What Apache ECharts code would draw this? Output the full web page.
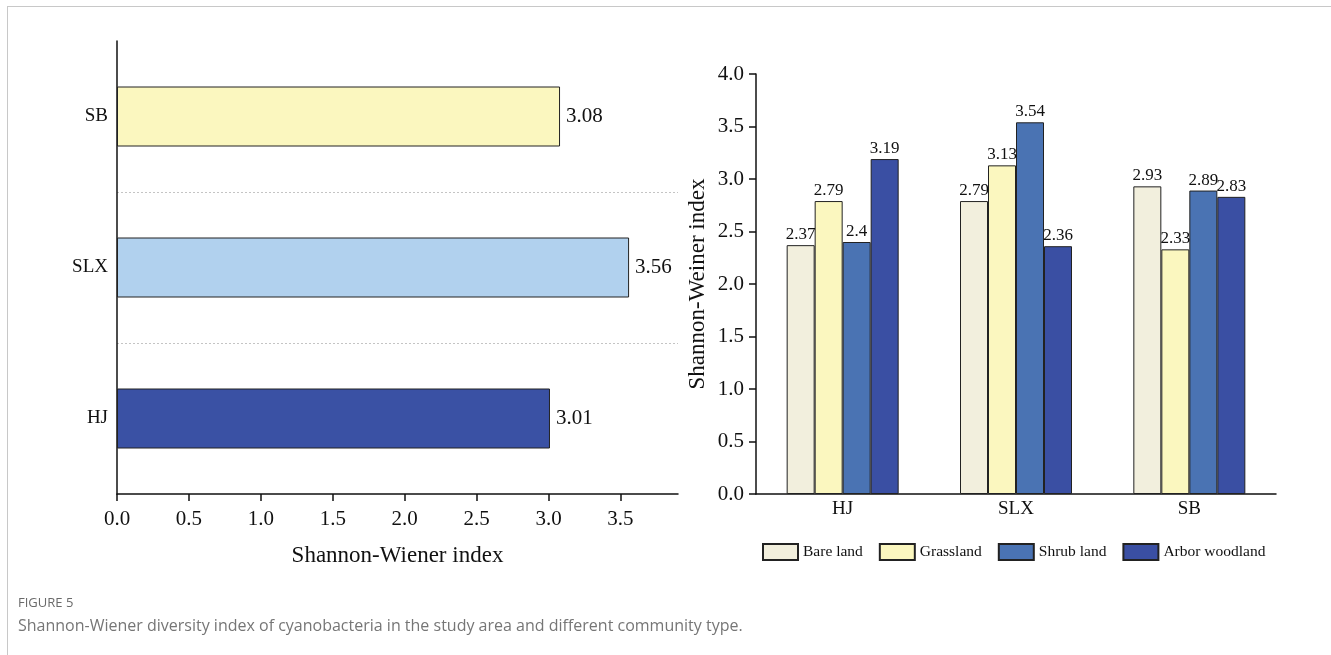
<!DOCTYPE html>
<html><head><meta charset="utf-8">
<script src="https://cdn.jsdelivr.net/npm/echarts@6/dist/echarts.min.js"></script>
<style>
html,body{margin:0;padding:0;background:#fff;}
#frame{position:absolute;left:7px;top:6px;right:0;bottom:0;border-left:1px solid #c8c8c8;border-top:1px solid #c8c8c8;}
#c{position:absolute;left:0;top:0;width:1331px;height:655px;}
</style></head>
<body><div id="frame"></div><div id="c"></div>
<script>
// Left chart: study areas
const areaCategories = ['HJ', 'SLX', 'SB'];
const areaValues = [3.01, 3.56, 3.08];
const areaColors = ['#3A51A4', '#B1D1EE', '#FBF7BF'];
const leftTicks = [0, 0.5, 1.0, 1.5, 2.0, 2.5, 3.0, 3.5];

// Right chart: community types
const siteCategories = ['HJ', 'SLX', 'SB'];
const bareLand = [2.37, 2.79, 2.93];
const grassland = [2.79, 3.13, 2.33];
const shrubLand = [2.4, 3.54, 2.89];
const arborWoodland = [3.19, 2.36, 2.83];
const typeNames = ['Bare land', 'Grassland', 'Shrub land', 'Arbor woodland'];
const typeColors = ['#F2EFDD', '#FBF7BF', '#4A73B3', '#3A4FA3'];

const serif = '"Liberation Serif","Times New Roman",serif';
const chart = echarts.init(document.getElementById('c'));

const typeData = [bareLand, grassland, shrubLand, arborWoodland];
const rightSeries = typeNames.map((n, i) => ({
  name: n, type: 'bar', xAxisIndex: 1, yAxisIndex: 1,
  data: typeData[i], barWidth: 28, barGap: '0%',
  itemStyle: { color: typeColors[i], borderColor: '#222', borderWidth: 1 },
  label: { show: true, position: 'top', distance: 2, fontFamily: serif, fontSize: 17, color: '#111',
    formatter: p => String(p.value) },
  emphasis: { disabled: true }
}));

chart.setOption({
  animation: false,
  title: [
    { text: 'FIGURE 5', left: 13, top: 592, textStyle: { fontFamily: '"Open Sans",sans-serif', fontSize: 13, fontWeight: 'normal', color: '#6a6a6a' } },
    { text: 'Shannon-Wiener diversity index of cyanobacteria in the study area and different community type.', left: 13, top: 613,
      textStyle: { fontFamily: '"Open Sans",sans-serif', fontSize: 16, fontWeight: 'normal', color: '#767676' } }
  ],
  legend: {
    data: typeNames, left: 757, top: 538, itemWidth: 35, itemHeight: 16, itemGap: 16,
    textStyle: { fontFamily: serif, fontSize: 15.5, color: '#111' }, icon: 'rect'
  },
  grid: [
    { left: 117, top: 41, width: 561, height: 453 },
    { left: 756, top: 74, width: 520, height: 420 }
  ],
  xAxis: [
    { type: 'value', gridIndex: 0, min: 0, max: 3.9, interval: 0.5,
      name: 'Shannon-Wiener index', nameLocation: 'middle', nameGap: 50,
      nameTextStyle: { fontFamily: serif, fontSize: 23, color: '#111' },
      axisLine: { show: true, lineStyle: { color: '#111', width: 1.5 } },
      axisTick: { show: true, length: 7, customValues: leftTicks, lineStyle: { color: '#111', width: 1.5 } },
      axisLabel: { customValues: leftTicks, formatter: v => v.toFixed(1), fontFamily: serif, fontSize: 21, color: '#111', margin: 15 },
      splitLine: { show: false } },
    { type: 'category', gridIndex: 1, data: siteCategories,
      axisLine: { lineStyle: { color: '#111', width: 1.5 } },
      axisTick: { show: false },
      axisLabel: { fontFamily: serif, fontSize: 19, color: '#111', margin: 6 } }
  ],
  yAxis: [
    { type: 'category', gridIndex: 0, data: areaCategories,
      axisLine: { show: true, lineStyle: { color: '#111', width: 1.5 } },
      axisTick: { show: false },
      axisLabel: { fontFamily: serif, fontSize: 19, color: '#111', margin: 9 },
      splitLine: { show: true, showMinLine: false, showMaxLine: false,
        lineStyle: { color: '#c4c4c4', type: [2, 2], width: 1 } } },
    { type: 'value', gridIndex: 1, min: 0, max: 4, interval: 0.5,
      name: 'Shannon-Weiner index', nameLocation: 'middle', nameGap: 47, nameRotate: 90,
      nameTextStyle: { fontFamily: serif, fontSize: 23, color: '#111' },
      axisLine: { show: true, lineStyle: { color: '#111', width: 1.5 } },
      axisTick: { show: true, length: 7, lineStyle: { color: '#111', width: 1.5 } },
      axisLabel: { formatter: v => v.toFixed(1), fontFamily: serif, fontSize: 21, color: '#111', margin: 12 },
      splitLine: { show: false } }
  ],
  series: [
    { type: 'bar', xAxisIndex: 0, yAxisIndex: 0, barWidth: 60,
      data: areaValues.map((v, i) => ({ value: v, itemStyle: { color: areaColors[i] } })),
      itemStyle: { borderColor: '#222', borderWidth: 1 },
      label: { show: true, position: 'right', distance: 6, fontFamily: serif, fontSize: 21, color: '#111' },
      emphasis: { disabled: true } },
    ...rightSeries
  ]
});
</script></body></html>
